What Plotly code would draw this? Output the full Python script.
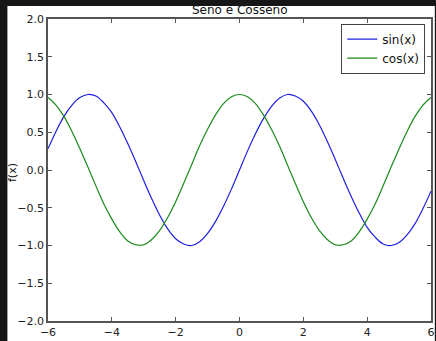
import plotly.graph_objects as go

# sampling grid along x (step 0.25 from -6 to 6)
x_vals = [i * 0.25 for i in range(-24, 25)]

sin_vals = [
    0.28, 0.51, 0.71, 0.86, 0.96, 1.00, 0.98, 0.89, 0.76, 0.57, 0.35, 0.11,
    -0.14, -0.38, -0.60, -0.78, -0.91, -0.98, -1.00, -0.95, -0.84, -0.68, -0.48, -0.25,
    0.00,
    0.25, 0.48, 0.68, 0.84, 0.95, 1.00, 0.98, 0.91, 0.78, 0.60, 0.38, 0.14,
    -0.11, -0.35, -0.57, -0.76, -0.89, -0.98, -1.00, -0.96, -0.86, -0.71, -0.51, -0.28,
]

cos_vals = [
    0.96, 0.86, 0.71, 0.51, 0.28, 0.04, -0.21, -0.45, -0.65, -0.82, -0.94, -0.99,
    -0.99, -0.92, -0.80, -0.63, -0.42, -0.18, 0.07, 0.32, 0.54, 0.73, 0.88, 0.97,
    1.00,
    0.97, 0.88, 0.73, 0.54, 0.32, 0.07, -0.18, -0.42, -0.63, -0.80, -0.92, -0.99,
    -0.99, -0.94, -0.82, -0.65, -0.45, -0.21, 0.04, 0.28, 0.51, 0.71, 0.86, 0.96,
]

x_ticks = [-6, -4, -2, 0, 2, 4, 6]
y_ticks = [-2.0, -1.5, -1.0, -0.5, 0.0, 0.5, 1.0, 1.5, 2.0]

FONT = "DejaVu Sans"
AXIS_COLOR = "#555555"

fig = go.Figure()
fig.add_trace(go.Scatter(x=x_vals, y=sin_vals, mode="lines", name="sin(x)",
                         line=dict(color="#1f1fe0", width=1.2, shape="spline")))
fig.add_trace(go.Scatter(x=x_vals, y=cos_vals, mode="lines", name="cos(x)",
                         line=dict(color="#1a8a1a", width=1.2, shape="spline")))

axis_common = dict(
    showgrid=False, zeroline=False, showline=True, linecolor=AXIS_COLOR,
    linewidth=1.5, mirror="ticks", ticks="inside", ticklen=4, tickwidth=1,
    tickcolor=AXIS_COLOR, tickfont=dict(family=FONT, size=11, color="#222222"),
    ticklabeloverflow="allow",
)

fig.update_xaxes(range=[-6, 6], tickvals=x_ticks,
                 ticktext=[f"\u2212{abs(v)}" if v < 0 else str(v) for v in x_ticks],
                 **axis_common)
fig.update_yaxes(range=[-2, 2], tickvals=y_ticks,
                 ticktext=[(f"\u2212{abs(v):.1f}" if v < 0 else f"{v:.1f}") for v in y_ticks],
                 **axis_common)

fig.update_layout(
    width=436, height=341,
    margin=dict(l=48, r=1, t=19, b=20),
    paper_bgcolor="#161616",
    plot_bgcolor="white",
    showlegend=True,
    legend=dict(x=0.985, y=0.985, xanchor="right", yanchor="top",
                bgcolor="white", bordercolor="#444444", borderwidth=1,
                font=dict(family=FONT, size=12, color="#111111"),
                itemwidth=30, tracegroupgap=0),
    shapes=[dict(type="rect", xref="paper", yref="paper",
                 x0=-0.106, x1=1.01, y0=-0.07, y1=1.043,
                 fillcolor="white", line=dict(width=0), layer="below")],
    annotations=[
        dict(text="Seno e Cosseno", xref="paper", yref="paper", x=0.5, y=1.0,
             yshift=9, showarrow=False, yanchor="middle",
             font=dict(family=FONT, size=12, color="#111111")),
        dict(text="x", xref="paper", yref="paper", x=0.5, y=0, yshift=-15,
             showarrow=False, yanchor="top",
             font=dict(family=FONT, size=10, color="#111111")),
        dict(text="f(x)", xref="paper", yref="paper", x=0, xshift=-36, y=0.49,
             showarrow=False, textangle=-90, xanchor="center", yanchor="middle",
             font=dict(family=FONT, size=11, color="#111111")),
    ],
)

fig.write_html("out.html")
